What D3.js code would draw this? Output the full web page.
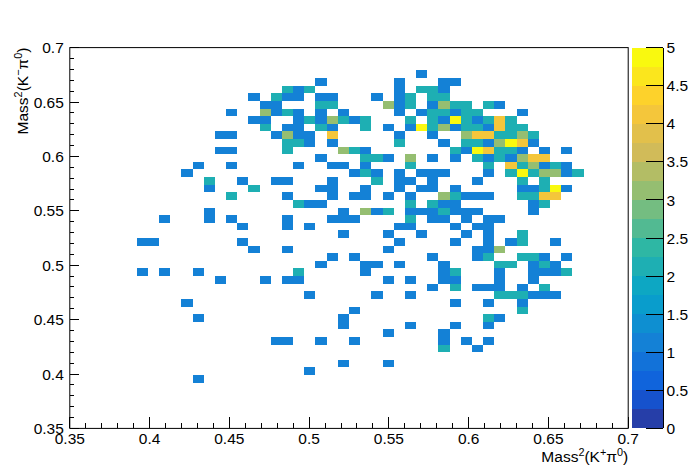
<!DOCTYPE html>
<html><head><meta charset="utf-8">
<script src="https://cdn.jsdelivr.net/npm/d3@7/dist/d3.min.js"></script>
<style>
body{margin:0;background:#fff}
svg{display:block}
text{font-family:"Liberation Sans",Arial,Helvetica,sans-serif;fill:#000}
</style></head>
<body><svg id="chart" width="698" height="476"></svg>
<script>
// ---- histogram binning (TH2: 50 x 50 bins on [0.35, 0.70]) ----
const nBinsX = 50, nBinsY = 50;
const axisMin = 0.35, axisMax = 0.70;
// ---- axis ticks / labels ----
const xTickValues = [0.35, 0.4, 0.45, 0.5, 0.55, 0.6, 0.65, 0.7];
const xTickLabels = ["0.35", "0.4", "0.45", "0.5", "0.55", "0.6", "0.65", "0.7"];
const yTickValues = [0.35, 0.4, 0.45, 0.5, 0.55, 0.6, 0.65, 0.7];
const yTickLabels = ["0.35", "0.4", "0.45", "0.5", "0.55", "0.6", "0.65", "0.7"];
const zTickValues = [0, 0.5, 1, 1.5, 2, 2.5, 3, 3.5, 4, 4.5, 5];
const zTickLabels = ["0", "0.5", "1", "1.5", "2", "2.5", "3", "3.5", "4", "4.5", "5"];
const zMin = 0, zMax = 5, nContours = 20;
// ---- bin contents: yBin -> "xBin:count" list ----
const binContents = {
  46: "31:1",
  45: "22:1 29:1 33:1 34:1",
  44: "19:2 20:1 21:2 29:1 31:2 32:2 33:1",
  43: "16:1 18:2 19:1 20:1 22:1 23:1 27:1 29:1 30:2 32:2 33:2",
  42: "17:1 18:1 22:2 23:2 28:3 29:1 30:2 32:1 33:3 34:2 35:2 37:2 38:1",
  41: "14:1 17:3 18:1 19:2 20:1 22:1 24:1 29:1 31:1 32:2 33:2 34:1 35:2 36:2 40:1",
  40: "16:1 17:1 20:1 21:2 22:1 23:3 24:2 25:1 26:2 30:2 32:2 33:1 34:5 35:2 36:1 37:2 38:4 39:2",
  39: "17:2 19:1 20:1 22:2 23:1 26:2 28:1 30:1 31:5 32:2 33:3 34:1 35:2 36:2 37:1 38:4 39:2 40:2",
  38: "13:1 14:1 18:1 19:3 20:1 21:1 23:4 29:1 32:1 35:3 36:4 37:4 38:2 39:2 40:3 41:2",
  37: "19:2 20:2 21:1 23:1 29:2 33:1 35:2 36:2 37:1 38:3 39:5 40:4 41:1",
  36: "13:1 14:1 19:2 24:3 25:2 26:1 34:2 35:1 36:5 37:4 38:2 39:2 40:1 42:1 44:1",
  35: "22:1 26:2 27:2 28:1 30:3 32:1 34:1 36:2 37:1 38:2 39:1 40:3 41:4 42:4",
  34: "11:1 14:1 20:1 23:1 24:1 26:1 30:2 37:2 39:4 40:2 41:3 42:1 43:2 44:1",
  33: "10:1 25:1 26:2 27:1 29:1 31:1 32:1 33:1 37:1 39:2 40:5 41:2 42:3 43:3 44:1 45:2",
  32: "12:2 15:1 18:1 19:1 23:1 27:2 29:1 30:1 32:1 36:1 40:2 42:2",
  31: "12:1 16:2 22:1 23:1 26:1 29:1 31:1 32:1 34:1 40:1 41:1 42:2 43:5 44:1",
  30: "14:2 19:1 23:1 25:1 26:1 28:1 30:1 33:3 34:2 35:1 36:1 37:1 40:2 41:2 42:4 43:4",
  29: "20:2 21:1 22:1 30:2 32:2 33:1 34:1 41:1 42:2",
  28: "12:1 24:1 26:3 27:1 28:2 30:1 31:1 32:1 33:2 34:1 35:1 36:1 41:1",
  27: "8:1 12:1 14:1 19:1 23:1 24:1 25:1 30:2 32:1 33:1 35:1 37:1 38:1",
  26: "15:1 19:1 21:1 29:1 30:1 34:1 36:1 37:1",
  25: "24:1 28:1 31:1 35:1 37:1 40:2",
  24: "6:1 7:1 15:1 29:1 34:1 37:1 39:1 40:2 43:1",
  23: "16:1 19:1 28:1 36:1 37:1 38:3",
  22: "23:1 25:1 32:1 36:1 37:2 40:2 41:2 42:1 44:1",
  21: "22:1 26:1 27:1 29:1 33:1 38:2 39:2 41:1 42:2 43:1",
  20: "6:1 8:1 11:1 20:2 26:1 33:1 34:2 38:1 41:1 42:1 43:1 44:2",
  19: "13:1 17:1 19:1 20:1 28:1 30:1 33:1 34:1 38:1 41:1",
  18: "32:1 34:2 36:1 37:1 38:1 40:1 42:2",
  17: "21:1 27:1 30:1 38:2 39:2 40:2 41:1 42:1 43:1",
  16: "10:1 34:1 37:1 40:1",
  15: "25:1 40:2",
  14: "11:1 24:1 37:2 38:1",
  13: "24:1 30:1 34:1 37:1",
  12: "28:1 33:1",
  11: "18:1 19:1 22:1 25:1 33:1 35:1 37:1",
  10: "33:2 36:1",
  8: "24:1 28:1",
  7: "21:1",
  6: "11:1"
};
// ---- kBird palette stops ----
const birdStops = [0.0, 0.125, 0.25, 0.375, 0.5, 0.625, 0.75, 0.875, 1.0];
const birdRed   = [0.2082, 0.0592, 0.0780, 0.0232, 0.1802, 0.5301, 0.8186, 0.9956, 0.9764];
const birdGreen = [0.1664, 0.3599, 0.5041, 0.6419, 0.7178, 0.7492, 0.7328, 0.7862, 0.9832];
const birdBlue  = [0.5293, 0.8684, 0.8385, 0.7914, 0.6425, 0.4662, 0.3499, 0.1968, 0.0539];

// ================= drawing =================
const W = 698, H = 476;
const fx0 = 0.1 * W, fx1 = 0.9 * W, fy0 = 0.1 * H, fy1 = 0.9 * H;
const px0 = 0.905 * W, px1 = 0.95 * W;
const FONT = 15.5;

const svg = d3.select("#chart");
const x = d3.scaleLinear().domain([axisMin, axisMax]).range([fx0, fx1]);
const y = d3.scaleLinear().domain([axisMin, axisMax]).range([fy1, fy0]);
const z = d3.scaleLinear().domain([zMin, zMax]).range([fy1, fy0]);

// ROOT gradient table with 255 colours
const NCOL = 255;
const palette = [];
for (let g = 1; g < birdStops.length; g++) {
  const a = Math.floor(NCOL * birdStops[g - 1]), b = Math.floor(NCOL * birdStops[g]);
  const n = b - a;
  for (let c = 0; c < n; c++) {
    const t = c / n;
    palette.push(d3.rgb(
      255 * (birdRed[g - 1] + t * (birdRed[g] - birdRed[g - 1])),
      255 * (birdGreen[g - 1] + t * (birdGreen[g] - birdGreen[g - 1])),
      255 * (birdBlue[g - 1] + t * (birdBlue[g] - birdBlue[g - 1]))).formatHex());
  }
}
function levelColor(k) {
  const idx = Math.min(palette.length - 1, Math.floor((k + 0.99) * palette.length / nContours));
  return palette[idx];
}
function valueColor(v) {
  let k = Math.floor(0.01 + (v - zMin) * nContours / (zMax - zMin));
  if (k >= nContours) k = nContours - 1;
  return levelColor(k);
}

const bw = (axisMax - axisMin) / nBinsX, bh = (axisMax - axisMin) / nBinsY;
const cells = [];
Object.keys(binContents).forEach(jy => {
  binContents[jy].split(/\s+/).forEach(tok => {
    const [ix, v] = tok.split(":").map(Number);
    cells.push({ ix, iy: +jy, v });
  });
});

svg.append("g").attr("shape-rendering", "crispEdges")
  .selectAll("rect").data(cells).join("rect")
  .attr("x", d => x(axisMin + d.ix * bw))
  .attr("y", d => y(axisMin + (d.iy + 1) * bh))
  .attr("width", d => x(axisMin + (d.ix + 1) * bw) - x(axisMin + d.ix * bw))
  .attr("height", d => y(axisMin + d.iy * bh) - y(axisMin + (d.iy + 1) * bh))
  .attr("fill", d => valueColor(d.v));

// frame
svg.append("rect").attr("x", fx0).attr("y", fy0).attr("width", fx1 - fx0).attr("height", fy1 - fy0)
  .attr("fill", "none").attr("stroke", "#000").attr("stroke-width", 1);

// axes ticks
const xMinor = d3.range(0, 36).map(i => axisMin + i * 0.01);
const gt = svg.append("g").attr("stroke", "#000").attr("stroke-width", 1).attr("shape-rendering", "crispEdges");
xMinor.forEach((v, i) => {
  const len = (i % 5 === 0) ? 11.4 : 5.7;
  gt.append("line").attr("x1", x(v)).attr("x2", x(v)).attr("y1", fy1).attr("y2", fy1 - len);
  const ylen = (i % 5 === 0) ? 9 : 4.5;
  gt.append("line").attr("y1", y(v)).attr("y2", y(v)).attr("x1", fx0).attr("x2", fx0 + ylen);
});

// tick labels
svg.append("g").selectAll("text").data(xTickValues).join("text")
  .attr("x", d => x(d)).attr("y", fy1 + 16).attr("text-anchor", "middle")
  .attr("font-size", FONT).text((d, i) => xTickLabels[i]);
svg.append("g").selectAll("text").data(yTickValues).join("text")
  .attr("x", fx0 - 6).attr("y", d => y(d)).attr("dy", "0.36em").attr("text-anchor", "end")
  .attr("font-size", FONT).text((d, i) => yTickLabels[i]);

// titles (TLatex-like superscripts)
function title(sel, parts) {
  let shift = 0;
  parts.forEach(p => {
    const target = p.sup ? -6 : 0;
    const ts = sel.append("tspan").attr("dy", target - shift).text(p.t);
    if (p.sup) ts.attr("font-size", FONT * 0.7);
    shift = target;
  });
}
const xt = svg.append("text").attr("x", fx1).attr("y", 462).attr("text-anchor", "end").attr("font-size", FONT);
title(xt, [{t:"Mass"},{t:"2",sup:1},{t:"(K"},{t:"+",sup:1},{t:"\u03C0"},{t:"0",sup:1},{t:")"}]);
const yt = svg.append("text").attr("transform", `translate(28,${fy0}) rotate(-90)`).attr("text-anchor", "end").attr("font-size", FONT);
title(yt, [{t:"Mass"},{t:"2",sup:1},{t:"(K"},{t:"\u2212",sup:1},{t:"\u03C0"},{t:"0",sup:1},{t:")"}]);

// palette (colour bar)
const levels = d3.range(nContours);
svg.append("g").attr("shape-rendering", "crispEdges").selectAll("rect").data(levels).join("rect")
  .attr("x", px0).attr("width", px1 - px0)
  .attr("y", k => z(zMin + (k + 1) * (zMax - zMin) / nContours))
  .attr("height", k => z(zMin + k * (zMax - zMin) / nContours) - z(zMin + (k + 1) * (zMax - zMin) / nContours))
  .attr("fill", k => levelColor(k));
const gz = svg.append("g").attr("stroke", "#000").attr("shape-rendering", "crispEdges");
gz.append("line").attr("x1", px1).attr("x2", px1).attr("y1", fy0).attr("y2", fy1);
zTickValues.forEach(v => gz.append("line").attr("x1", px1 - 17).attr("x2", px1).attr("y1", z(v)).attr("y2", z(v)));
svg.append("g").selectAll("text").data(zTickValues).join("text")
  .attr("x", px1 + 3.5).attr("y", d => z(d)).attr("dy", "0.36em").attr("font-size", FONT)
  .text((d, i) => zTickLabels[i]);
</script>
</body></html>
